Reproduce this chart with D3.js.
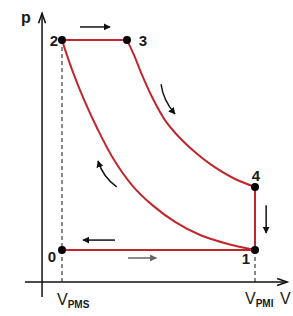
<!DOCTYPE html>
<html>
<head>
<meta charset="utf-8">
<script src="https://cdn.jsdelivr.net/npm/d3@7"></script>
<style>
body { margin: 0; background: #fff; }
svg { display: block; }
text { font-family: "Liberation Sans", Arial, sans-serif; fill: #1a1a1a; }
</style>
</head>
<body>
<div id="chart"></div>
<script>
// state points of the cycle (V, p)
var points = [
    {name: "0", v: 1.0, p: 1.0, dx: -10, dy: 12},
    {name: "1", v: 10.0, p: 1.0, dx: -9, dy: 14},
    {name: "2", v: 1.0, p: 7.56, dx: -8, dy: 6},
    {name: "3", v: 4.03, p: 7.56, dx: 16, dy: 6},
    {name: "4", v: 10.0, p: 2.97, dx: 1, dy: -6}
];

// compression 1 -> 2
var compV = [10.0, 8.74, 7.44, 6.27, 5.20, 4.26, 3.43, 2.68, 2.03, 1.47, 1.0];
var compP = [1.0, 1.19, 1.47, 1.88, 2.41, 3.03, 3.81, 4.75, 5.69, 6.63, 7.56];

// expansion 3 -> 4
var expV = [4.03, 4.36, 4.73, 5.20, 5.80, 6.50, 7.20, 7.90, 8.98, 10.0];
var expP = [7.56, 7.09, 6.47, 5.78, 5.06, 4.50, 4.06, 3.69, 3.25, 2.97];

// direction arrows: [v0,p0, vc,pc, v1,p1, colour]
var arrows = [
    [1.84, 7.97, null, null, 3.24, 7.97, "#111"],
    [10.52, 2.40, null, null, 10.52, 1.53, "#111"],
    [3.47, 1.31, null, null, 1.98, 1.31, "#111"],
    [4.08, 0.75, null, null, 5.40, 0.75, "#666"],
    [5.62, 6.18, 5.71, 5.69, 6.27, 5.25, "#111"],
    [3.55, 2.97, 2.91, 3.28, 2.68, 3.78, "#111"]
];

function draw() {
    var width = 293, height = 316;
    var svg = d3.select("#chart").append("svg")
        .attr("width", width)
        .attr("height", height);

    var x = d3.scaleLinear().domain([0, 10]).range([40.56, 255]);
    var y = d3.scaleLinear().domain([0, 8]).range([282, 26]);

    var defs = svg.append("defs");
    ["#111", "#666"].forEach(function(c, i) {
        defs.append("marker")
            .attr("id", "head" + i)
            .attr("viewBox", "0 0 10 10")
            .attr("refX", 9).attr("refY", 5)
            .attr("markerWidth", 7).attr("markerHeight", 7)
            .attr("markerUnits", "userSpaceOnUse")
            .attr("orient", "auto")
            .append("path")
            .attr("d", "M0,0 L10,5 L0,10 z")
            .attr("fill", c);
    });

    // axes
    var ax = svg.append("g").attr("stroke", "#111").attr("fill", "none");
    ax.append("line")
        .attr("x1", x(0.07)).attr("x2", x(0.07))
        .attr("y1", y(-0.47)).attr("y2", y(8.4))
        .attr("stroke-width", 1.5);
    ax.append("line")
        .attr("x1", x(-0.73)).attr("x2", x(11.5))
        .attr("y1", y(0)).attr("y2", y(0))
        .attr("stroke-width", 1.5);
    ax.append("path")
        .attr("d", "M" + (x(0.07) - 3.5) + "," + (y(8.4) + 10) + " L" + x(0.07) + "," + y(8.4) +
            " L" + (x(0.07) + 3.5) + "," + (y(8.4) + 10))
        .attr("stroke-width", 1.5);
    ax.append("path")
        .attr("d", "M" + (x(11.5) - 10) + "," + (y(0) - 3.5) + " L" + x(11.5) + "," + y(0) +
            " L" + (x(11.5) - 10) + "," + (y(0) + 3.5))
        .attr("stroke-width", 1.5);

    // dashed guides
    svg.append("line")
        .attr("x1", x(1)).attr("x2", x(1))
        .attr("y1", y(7.56)).attr("y2", y(0))
        .attr("stroke", "#111").attr("stroke-dasharray", "4,3");
    svg.append("line")
        .attr("x1", x(10)).attr("x2", x(10))
        .attr("y1", y(1)).attr("y2", y(0))
        .attr("stroke", "#111").attr("stroke-dasharray", "4,3");

    var line = d3.line()
        .x(function(d) { return x(d[0]); })
        .y(function(d) { return y(d[1]); })
        .curve(d3.curveCatmullRom);

    var red = "#c0272d";
    var cycle = svg.append("g").attr("fill", "none").attr("stroke", red).attr("stroke-width", 2);
    cycle.append("path").attr("d", line(d3.zip(compV, compP)));
    cycle.append("path").attr("d", line(d3.zip(expV, expP)));
    var seg = [["0", "1"], ["2", "3"], ["4", "1"]];
    seg.forEach(function(s) {
        var a = _find(s[0]), b = _find(s[1]);
        cycle.append("line")
            .attr("x1", x(a.v)).attr("y1", y(a.p))
            .attr("x2", x(b.v)).attr("y2", y(b.p));
    });

    function _find(n) {
        return points.filter(function(d) { return d.name == n; })[0];
    }

    // process arrows
    svg.selectAll("path.arrow")
        .data(arrows)
        .enter()
        .append("path")
        .attr("class", "arrow")
        .attr("fill", "none")
        .attr("stroke", function(d) { return d[6]; })
        .attr("stroke-width", 1.5)
        .attr("marker-end", function(d) { return d[6] == "#666" ? "url(#head1)" : "url(#head0)"; })
        .attr("d", function(d) {
            if (d[2] == null) {
                return "M" + x(d[0]) + "," + y(d[1]) + " L" + x(d[4]) + "," + y(d[5]);
            }
            return "M" + x(d[0]) + "," + y(d[1]) + " Q" + x(d[2]) + "," + y(d[3]) +
                " " + x(d[4]) + "," + y(d[5]);
        });

    // state points
    svg.selectAll("circle")
        .data(points)
        .enter()
        .append("circle")
        .attr("cx", function(d) { return x(d.v); })
        .attr("cy", function(d) { return y(d.p); })
        .attr("r", 4)
        .attr("fill", "#000");

    svg.selectAll("text.pt")
        .data(points)
        .enter()
        .append("text")
        .attr("class", "pt")
        .attr("x", function(d) { return x(d.v) + d.dx; })
        .attr("y", function(d) { return y(d.p) + d.dy; })
        .attr("text-anchor", "middle")
        .attr("font-size", 15)
        .attr("font-weight", "bold")
        .text(function(d) { return d.name; });

    // axis labels
    svg.append("text")
        .attr("x", 21).attr("y", 23)
        .attr("font-size", 16).attr("font-weight", "bold")
        .text("p");

    var vl = [{v: 1.0, sub: "PMS"}, {v: 10.0, sub: "PMI"}];
    vl.forEach(function(d, i) {
        var t = svg.append("text")
            .attr("x", x(d.v) - (i ? 10 : 5)).attr("y", 305 - i * 1)
            .attr("font-size", 16);
        t.append("tspan").text("V");
        t.append("tspan").attr("font-size", 10).attr("font-weight", "bold")
            .attr("dy", 3).text(d.sub);
    });
    svg.append("text")
        .attr("x", 280).attr("y", 304)
        .attr("font-size", 16)
        .text("V");
}

document.body.onload = function() {
    draw();
};
</script>
</body>
</html>
